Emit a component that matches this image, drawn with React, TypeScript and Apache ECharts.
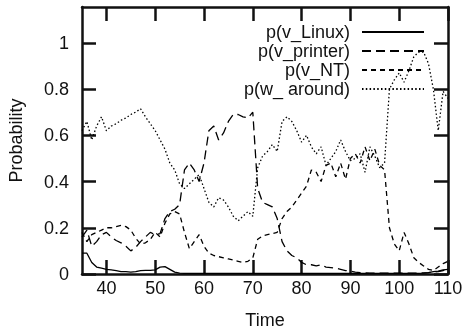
import React, { useEffect, useRef } from "react";
import * as echarts from "echarts";

const times = [
  35, 36, 37, 38, 39, 40, 41, 42, 43, 44, 45, 46, 47, 48, 49, 50, 51, 52, 53, 54,
  55, 56, 57, 58, 59, 60, 61, 62, 63, 64, 65, 66, 67, 68, 69, 70, 71, 72, 73, 74,
  75, 76, 77, 78, 79, 80, 81, 82, 83, 84, 85, 86, 87, 88, 89, 90, 91, 92, 93, 94,
  95, 96, 97, 98, 99, 100, 101, 102, 103, 104, 105, 106, 107, 108, 109, 110,
];

const linux = [
  0.09, 0.09, 0.05, 0.03, 0.025, 0.02, 0.018, 0.015, 0.01, 0.01, 0.008, 0.01, 0.015, 0.016, 0.016, 0.018, 0.03, 0.032, 0.02, 0.008,
  0.004, 0.003, 0.003, 0.003, 0.003, 0.003, 0.003, 0.003, 0.003, 0.003, 0.003, 0.003, 0.003, 0.003, 0.003, 0.003, 0.003, 0.003, 0.003, 0.003,
  0.003, 0.003, 0.003, 0.003, 0.003, 0.003, 0.003, 0.003, 0.003, 0.003, 0.003, 0.003, 0.003, 0.003, 0.003, 0.003, 0.003, 0.003, 0.003, 0.003,
  0.003, 0.003, 0.003, 0.003, 0.003, 0.003, 0.003, 0.003, 0.003, 0.003, 0.004, 0.006, 0.01, 0.012, 0.018, 0.02,
];

const printer = [
  0.16, 0.19, 0.12, 0.14, 0.17, 0.18, 0.16, 0.145, 0.135, 0.12, 0.1, 0.115, 0.14, 0.16, 0.18, 0.17, 0.175, 0.24, 0.27, 0.28,
  0.3, 0.45, 0.48, 0.45, 0.4, 0.48, 0.62, 0.64, 0.58, 0.61, 0.66, 0.69, 0.69, 0.68, 0.675, 0.7, 0.37, 0.31, 0.3, 0.29,
  0.24, 0.14, 0.1, 0.08, 0.07, 0.05, 0.04, 0.04, 0.035, 0.04, 0.03, 0.028, 0.025, 0.02, 0.015, 0.012, 0.008, 0.006, 0.005, 0.004,
  0.004, 0.004, 0.004, 0.004, 0.004, 0.004, 0.004, 0.004, 0.004, 0.004, 0.005, 0.006, 0.008, 0.01, 0.015, 0.02,
];

const nt = [
  0.18, 0.14, 0.17, 0.18, 0.19, 0.2, 0.2, 0.205, 0.21, 0.205, 0.19, 0.155, 0.13, 0.135, 0.15, 0.18, 0.16, 0.22, 0.26, 0.27,
  0.26, 0.18, 0.11, 0.14, 0.17, 0.12, 0.09, 0.08, 0.075, 0.07, 0.065, 0.06, 0.055, 0.05, 0.055, 0.07, 0.15, 0.165, 0.17, 0.175,
  0.18, 0.24, 0.27, 0.29, 0.32, 0.35, 0.38, 0.45, 0.44, 0.4, 0.47, 0.48, 0.42, 0.48, 0.41, 0.5, 0.52, 0.48, 0.55, 0.49,
  0.54, 0.47, 0.45, 0.2, 0.13, 0.1, 0.18, 0.13, 0.07, 0.05, 0.035, 0.02, 0.015, 0.03, 0.045, 0.055,
];

const around = [
  0.62, 0.66, 0.58, 0.64, 0.68, 0.62, 0.64, 0.65, 0.665, 0.675, 0.69, 0.7, 0.715, 0.68, 0.65, 0.62, 0.58, 0.54, 0.48, 0.45,
  0.39, 0.37, 0.39, 0.41, 0.43, 0.37, 0.31, 0.29, 0.33, 0.32, 0.29, 0.25, 0.23, 0.25, 0.27, 0.25, 0.46, 0.51, 0.53, 0.56,
  0.53, 0.66, 0.68, 0.66, 0.62, 0.57, 0.6, 0.55, 0.52, 0.55, 0.47, 0.5, 0.53, 0.58, 0.53, 0.49, 0.5, 0.52, 0.44, 0.55,
  0.51, 0.46, 0.48, 0.8, 0.84, 0.87, 0.83, 0.88, 0.94, 0.96, 0.96, 0.91, 0.8, 0.62, 0.79, 0.76,
];

const xTicks = [40, 50, 60, 70, 80, 90, 100, 110];
const yTicks = [0, 0.2, 0.4, 0.6, 0.8, 1];
const seriesNames = ["p(v_Linux)", "p(v_printer)", "p(v_NT)", "p(w_ around)"];
const xTitle = "Time";
const yTitle = "Probability";

export default function App() {
  const ref = useRef<HTMLDivElement>(null);
  useEffect(() => {
    const chart = echarts.init(ref.current as HTMLDivElement, null, { renderer: "svg" });
    const font = "Liberation Sans";
    const ink = "#111";
    const pairs = (vals: number[]) => times.map((t, i) => [t, vals[i]]);
    const axisLine = { show: true, onZero: false, lineStyle: { color: ink, width: 2.5 } };
    const tick = (vals: number[]) => ({
      show: true,
      inside: true,
      length: 14,
      customValues: vals,
      lineStyle: { color: ink, width: 2.5 },
    });
    const label = { fontSize: 18, color: ink, fontFamily: font };
    const dashes: any[] = ["solid", [9, 5], [5, 4], [1.5, 2.3]];
    const valueSets = [linux, printer, nt, around];
    chart.setOption({
      animation: false,
      grid: { left: 82, right: 16, top: 7, bottom: 57, containLabel: false, outerBoundsMode: "none" },
      xAxis: [
        {
          type: "value",
          min: 35,
          max: 110,
          position: "bottom",
          axisLine,
          axisTick: tick(xTicks),
          axisLabel: { ...label, customValues: xTicks, margin: 5 },
          splitLine: { show: false },
          name: xTitle,
          nameLocation: "middle",
          nameGap: 37,
          nameTextStyle: label,
        },
        {
          type: "value",
          min: 35,
          max: 110,
          position: "top",
          axisLine,
          axisTick: tick(xTicks),
          axisLabel: { show: false },
          splitLine: { show: false },
        },
      ],
      yAxis: [
        {
          type: "value",
          min: 0,
          max: 1.155,
          position: "left",
          axisLine,
          axisTick: tick(yTicks),
          axisLabel: { ...label, customValues: yTicks, margin: 13 },
          splitLine: { show: false },
          name: yTitle,
          nameLocation: "middle",
          nameGap: 57,
          nameTextStyle: label,
        },
        {
          type: "value",
          min: 0,
          max: 1.155,
          position: "right",
          axisLine,
          axisTick: tick(yTicks),
          axisLabel: { show: false },
          splitLine: { show: false },
        },
      ],
      legend: {
        orient: "vertical",
        align: "right",
        right: 39,
        top: 23,
        padding: 0,
        itemWidth: 62,
        itemHeight: 14,
        itemGap: 1,
        itemStyle: { opacity: 0, color: "transparent", borderColor: "transparent", borderWidth: 0 },
        textStyle: { ...label, padding: [0, 7, 0, 0] },
        data: seriesNames,
      },
      series: seriesNames.map((name, i) => ({
        name,
        type: "line",
        xAxisIndex: 0,
        yAxisIndex: 0,
        symbol: "none",
        showSymbol: false,
        data: pairs(valueSets[i]),
        lineStyle: { color: "#000", width: 1.3, type: dashes[i] },
        itemStyle: { color: "#000" },
        emphasis: { disabled: true },
      })),
    });
    return () => chart.dispose();
  }, []);
  return <div ref={ref} style={{ position: "fixed", left: 0, top: 0, width: 464, height: 331 }} />;
}
